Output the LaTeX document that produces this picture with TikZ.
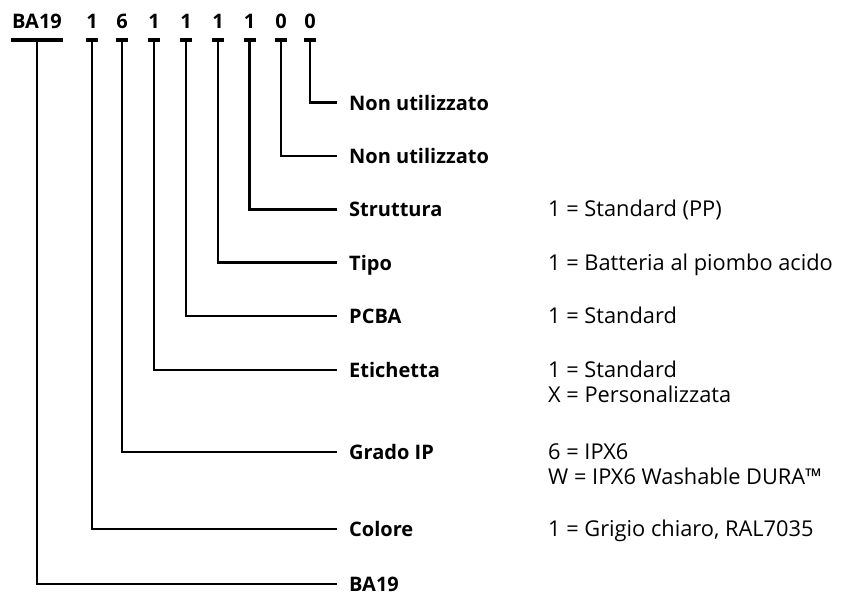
\documentclass[tikz,border=0pt]{standalone}
\usepackage{fontspec}
\setmainfont{Open Sans}
\begin{document}
\begin{tikzpicture}[x=1pt,y=-1pt,
  wire/.style={line width=2.7pt},
  bar/.style={line width=3.3pt},
  code/.style={font=\bfseries\fontsize{20}{24}\selectfont, anchor=base, inner sep=0pt},
  lbl/.style={font=\bfseries\fontsize{20}{24}\selectfont, anchor=base west, inner sep=0pt},
  val/.style={font=\fontsize{21.8}{26}\selectfont, anchor=base west, inner sep=0pt}]
\useasboundingbox (0,0) rectangle (841,595);
% top code
\node[code] (c0) at (37,28) {BA19};
\node[code] (c1) at (92,28) {1};
\node[code] (c2) at (122,28) {6};
\node[code] (c3) at (154,28) {1};
\node[code] (c4) at (186,28) {1};
\node[code] (c5) at (218,28) {1};
\node[code] (c6) at (249.5,28) {1};
\node[code] (c7) at (281,28) {0};
\node[code] (c8) at (310,28) {0};
% bars under code
\draw[bar] (11,40) -- (63,40);
\foreach \x in {92,122,154,186,218,249.5,281,310}{
  \draw[bar] (\x-6,40) -- (\x+6,40);
}
\coordinate (t0) at (37,40);
\coordinate (t1) at (92,40);
\coordinate (t2) at (122,40);
\coordinate (t3) at (154,40);
\coordinate (t4) at (186,40);
\coordinate (t5) at (218,40);
\coordinate (t6) at (249.5,40);
\coordinate (t7) at (281,40);
\coordinate (t8) at (310,40);
% line ends
\coordinate (e8) at (337,102.5);
\coordinate (e7) at (337,156);
\coordinate (e6) at (337,209.3);
\coordinate (e5) at (337,262.7);
\coordinate (e4) at (337,316);
\coordinate (e3) at (337,370);
\coordinate (e2) at (337,452);
\coordinate (e1) at (337,529);
\coordinate (e0) at (337,584);
% labels
\node[lbl] (l8) at (349,110) {Non utilizzato};
\node[lbl] (l7) at (349,163.5) {Non utilizzato};
\node[lbl] (l6) at (349,216.8) {Struttura};
\node[lbl] (l5) at (349,270.2) {Tipo};
\node[lbl] (l4) at (349,323.5) {PCBA};
\node[lbl] (l3) at (349,377.5) {Etichetta};
\node[lbl] (l2) at (349,459.5) {Grado IP};
\node[lbl] (l1) at (349,536.5) {Colore};
\node[lbl] (l0) at (349,591.5) {BA19};
% values
\node[val] (v6) at (548,216.8) {1 = Standard (PP)};
\node[val] (v5) at (548,270.2) {1 = Batteria al piombo acido};
\node[val] (v4) at (548,323.5) {1 = Standard};
\node[val] (v3a) at (548,377.5) {1 = Standard};
\node[val] (v3b) at (548,402.5) {X = Personalizzata};
\node[val] (v2a) at (548,459.5) {6 = IPX6};
\node[val] (v2b) at (548,484.5) {W = IPX6 Washable DURA™};
\node[val] (v1) at (548,536.5) {1 = Grigio chiaro, RAL7035};
% connectors
\foreach \i in {0,...,8}{
  \draw[wire] (t\i) |- (e\i);
}
\end{tikzpicture}
\end{document}
